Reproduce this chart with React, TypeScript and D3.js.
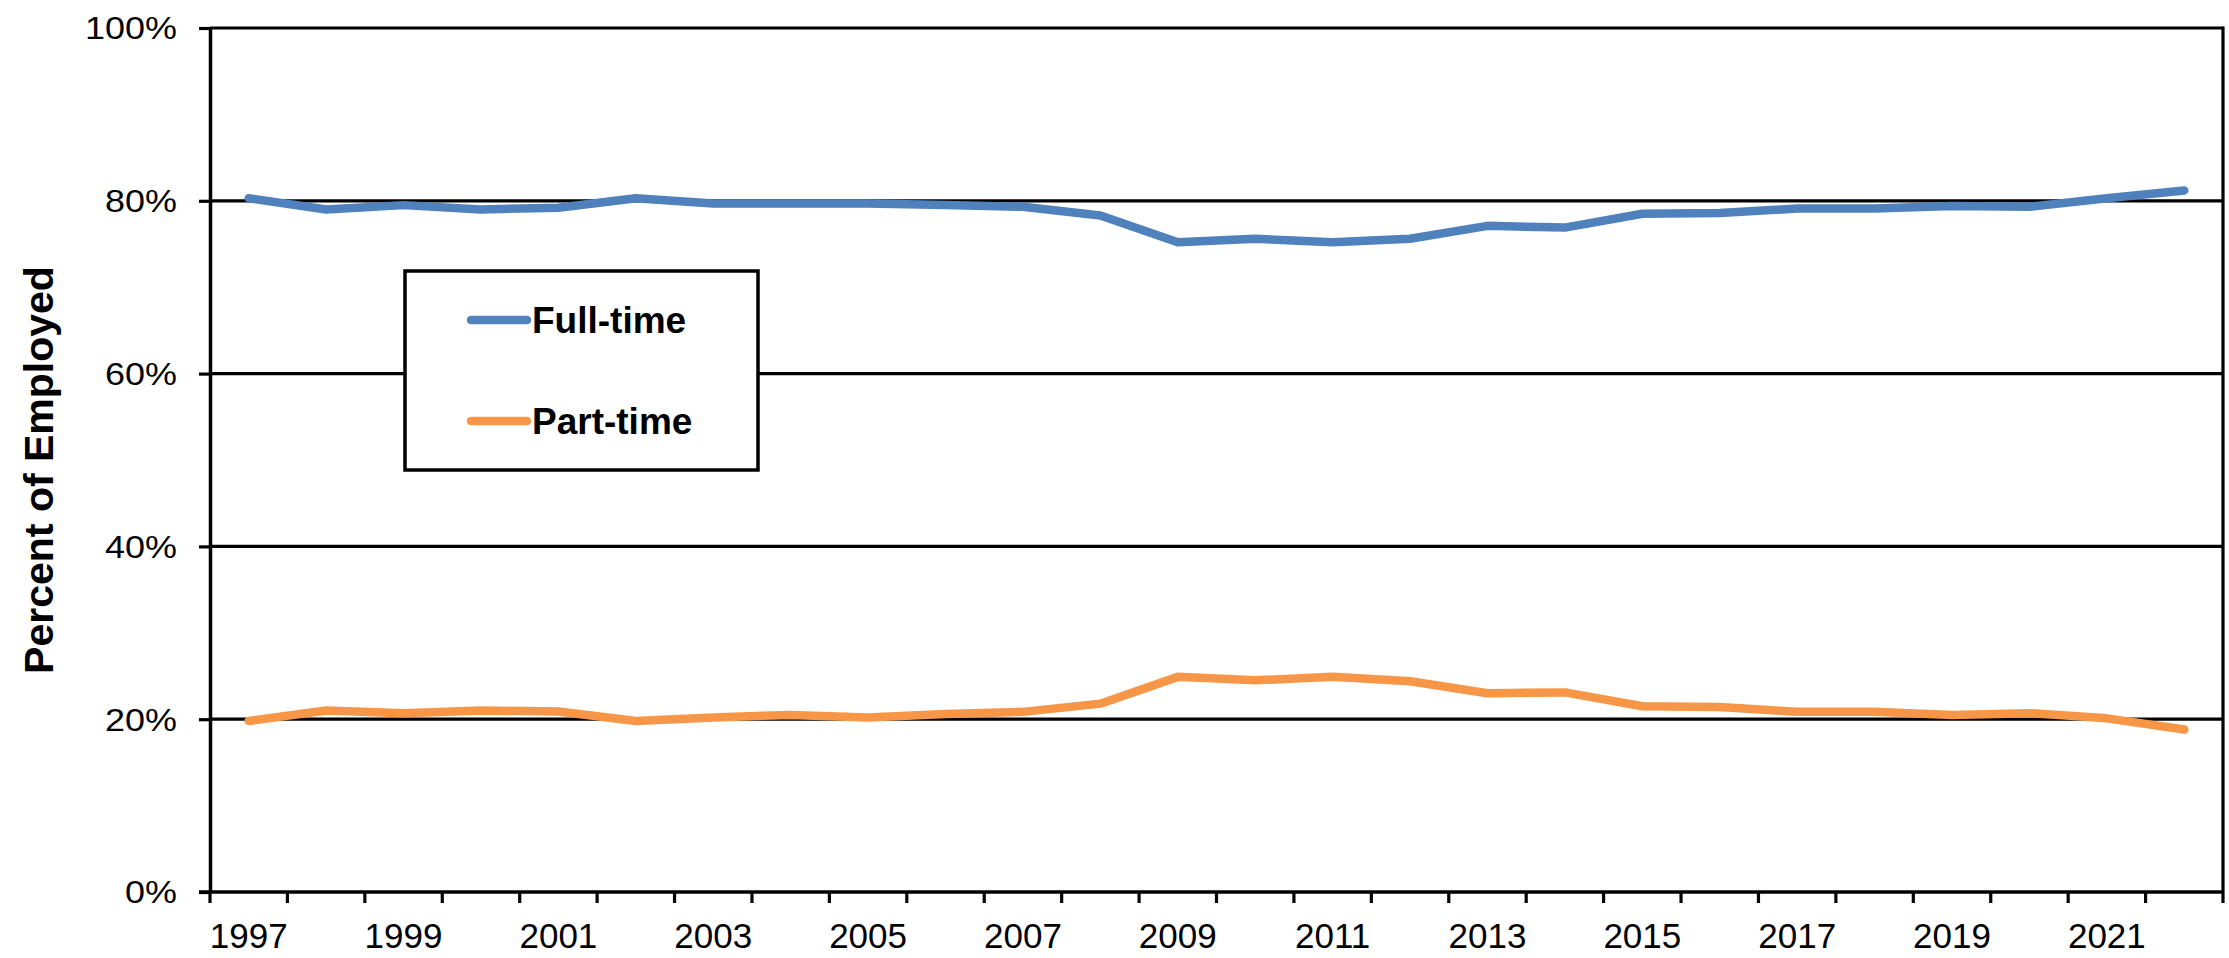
import React, { useEffect, useRef } from 'react';
import * as d3 from 'd3';

const years = [
  1997, 1998, 1999, 2000, 2001, 2002, 2003, 2004, 2005, 2006, 2007, 2008, 2009,
  2010, 2011, 2012, 2013, 2014, 2015, 2016, 2017, 2018, 2019, 2020, 2021, 2022,
];
const fullTime = [
  80.3, 79.0, 79.5, 79.0, 79.2, 80.3, 79.7, 79.7, 79.7, 79.5, 79.3, 78.3, 75.2,
  75.6, 75.2, 75.6, 77.1, 76.9, 78.5, 78.6, 79.1, 79.1, 79.4, 79.3, 80.3, 81.2,
];
const partTime = [
  19.8, 21.0, 20.7, 21.0, 20.9, 19.8, 20.2, 20.5, 20.2, 20.6, 20.85, 21.8, 24.9,
  24.5, 24.9, 24.4, 23.0, 23.1, 21.5, 21.4, 20.85, 20.85, 20.5, 20.7, 20.1, 18.8,
];
const yTicks = [0, 20, 40, 60, 80, 100];
const seriesNames = ['Full-time', 'Part-time'];
const seriesColors = ['#4F81BD', '#F79646'];

const W = 2229;
const H = 958;
const margin = { top: 28, right: 6, bottom: 66, left: 210 };
const FONT = '"Liberation Sans", Arial, sans-serif';

const App: React.FC = () => {
  const svgRef = useRef<SVGSVGElement>(null);

  useEffect(() => {
    if (!svgRef.current) return;
    const svg = d3.select(svgRef.current);
    svg.selectAll('*').remove();

    const x0 = margin.left;
    const x1 = W - margin.right;
    const yTop = margin.top;
    const yBot = H - margin.bottom;

    const x = d3.scaleBand<string>()
      .domain(years.map(String))
      .range([x0, x1])
      .padding(0);
    const bw = x.bandwidth();
    const cx = (yr: number) => (x(String(yr)) as number) + bw / 2;

    const y = d3.scaleLinear().domain([0, 100]).range([yBot, yTop]);

    svg.append('rect').attr('width', W).attr('height', H).attr('fill', '#fff');

    // gridlines
    svg.append('g')
      .selectAll('line')
      .data(yTicks.filter(t => t > 0))
      .enter()
      .append('line')
      .attr('x1', x0)
      .attr('x2', x1)
      .attr('y1', d => y(d))
      .attr('y2', d => y(d))
      .attr('stroke', '#000')
      .attr('stroke-width', 3.2);

    // right border
    svg.append('line')
      .attr('x1', x1).attr('x2', x1)
      .attr('y1', y(100) - 1.6).attr('y2', y(0))
      .attr('stroke', '#000').attr('stroke-width', 3.2);

    // y axis
    const yAxis = svg.append('g')
      .attr('transform', `translate(${x0},0)`)
      .call(
        d3.axisLeft(y)
          .tickValues(yTicks)
          .tickSize(11)
          .tickSizeOuter(0)
          .tickFormat(d => `${d}%`)
      );
    yAxis.select('.domain').attr('stroke', '#000').attr('stroke-width', 3.5);
    yAxis.selectAll('.tick line').attr('stroke', '#000').attr('stroke-width', 3.2);
    const sx = 1.16;
    yAxis.selectAll('.tick text')
      .attr('x', -33 / sx)
      .attr('dy', '0.35em')
      .attr('transform', `scale(${sx},1)`)
      .attr('font-family', FONT)
      .attr('font-size', 31)
      .attr('fill', '#000');

    // x axis line
    svg.append('line')
      .attr('x1', x0 - 11).attr('x2', x1)
      .attr('y1', yBot).attr('y2', yBot)
      .attr('stroke', '#000').attr('stroke-width', 3.5);

    // x ticks at band edges
    svg.append('g')
      .selectAll('line')
      .data(d3.range(years.length + 1))
      .enter()
      .append('line')
      .attr('x1', i => x0 + i * bw)
      .attr('x2', i => x0 + i * bw)
      .attr('y1', yBot)
      .attr('y2', yBot + 11)
      .attr('stroke', '#000')
      .attr('stroke-width', 3.2);

    // x labels (every other year)
    svg.append('g')
      .selectAll('text')
      .data(years.filter((_, i) => i % 2 === 0))
      .enter()
      .append('text')
      .attr('x', d => cx(d))
      .attr('y', yBot + 56)
      .attr('text-anchor', 'middle')
      .attr('font-family', FONT)
      .attr('font-size', 35)
      .attr('fill', '#000')
      .text(d => String(d));

    // y title
    svg.append('text')
      .attr('transform', `translate(53,${(yTop + yBot) / 2 + 10}) rotate(-90)`)
      .attr('text-anchor', 'middle')
      .attr('font-family', FONT)
      .attr('font-weight', 'bold')
      .attr('font-size', 41)
      .attr('fill', '#000')
      .text('Percent of Employed');

    // lines
    const line = d3.line<number>()
      .x((_, i) => cx(years[i]))
      .y(d => y(d));

    [fullTime, partTime].forEach((vals, k) => {
      svg.append('path')
        .datum(vals)
        .attr('fill', 'none')
        .attr('stroke', seriesColors[k])
        .attr('stroke-width', 8.5)
        .attr('stroke-linejoin', 'round')
        .attr('stroke-linecap', 'round')
        .attr('d', line);
    });

    // legend
    const lg = svg.append('g').attr('transform', 'translate(405,271)');
    lg.append('rect')
      .attr('width', 353)
      .attr('height', 199)
      .attr('fill', '#fff')
      .attr('stroke', '#000')
      .attr('stroke-width', 3.5);
    seriesNames.forEach((name, k) => {
      const ly = 49 + k * 101;
      lg.append('line')
        .attr('x1', 66).attr('x2', 122)
        .attr('y1', ly).attr('y2', ly)
        .attr('stroke', seriesColors[k])
        .attr('stroke-width', 8.5)
        .attr('stroke-linecap', 'round');
      lg.append('text')
        .attr('x', 127)
        .attr('y', ly)
        .attr('dy', '0.36em')
        .attr('font-family', FONT)
        .attr('font-weight', 'bold')
        .attr('font-size', 37)
        .attr('fill', '#000')
        .text(name);
    });
  }, []);

  return (
    <svg
      ref={svgRef}
      width={W}
      height={H}
      style={{ position: 'absolute', left: 0, top: 0, display: 'block' }}
    />
  );
};

export default App;
